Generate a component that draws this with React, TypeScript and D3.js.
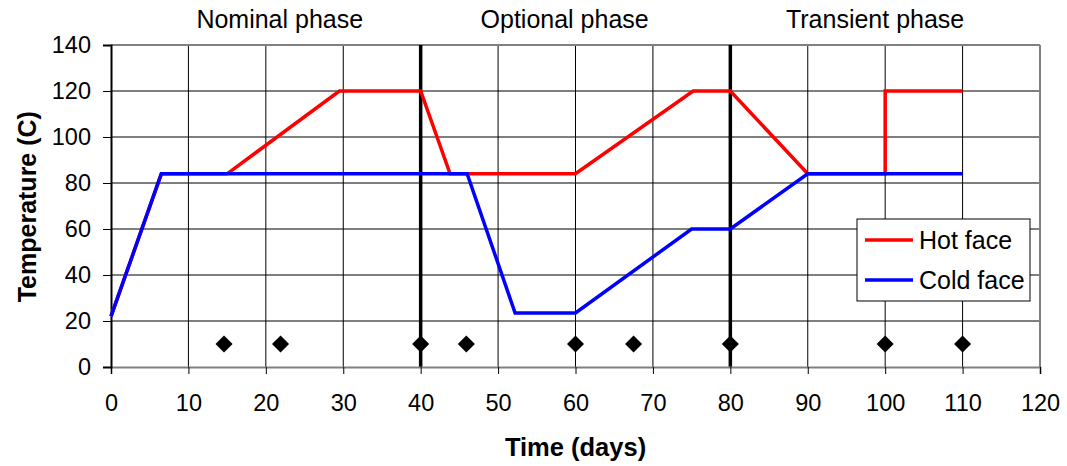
import React, { useEffect, useRef } from 'react';
import * as d3 from 'd3';

// time (days) and temperature (C)
const hotDays = [0, 6.5, 15, 29.5, 40, 43.8, 60, 75.2, 80, 90, 100, 100, 110];
const hotTemps = [22, 84, 84, 120, 120, 84, 84, 120, 120, 84, 84, 120, 120];
const coldDays = [0, 6.5, 46, 52.2, 60, 75, 80, 90, 110];
const coldTemps = [22, 84, 84, 23.5, 23.5, 60, 60, 84, 84];
const markerDays = [14.6, 21.9, 40, 45.9, 60, 67.5, 80, 100, 110];
const markerTemp = 10;
const phaseBounds = [40, 80];
const phaseNames = ['Nominal phase', 'Optional phase', 'Transient phase'];
const phaseLabelDays = [21.8, 58.6, 98.7];
const xTicks = [0, 10, 20, 30, 40, 50, 60, 70, 80, 90, 100, 110, 120];
const yTicks = [0, 20, 40, 60, 80, 100, 120, 140];
const seriesNames = ['Hot face', 'Cold face'];

const W = 1067, H = 466;

const App = () => {
  const ref = useRef(null);

  useEffect(() => {
    const svg = d3.select(ref.current);
    svg.selectAll('*').remove();
    draw(svg);
  }, []);

  return <svg ref={ref} width={W} height={H} style={{ position: 'absolute', left: 0, top: 0, background: '#fff' }} />;
};

const draw = (svg) => {
  const margin = { top: 45, right: 27, bottom: 99, left: 111 };
  const width = W - margin.left - margin.right;
  const height = H - margin.top - margin.bottom;
  const font = '"Liberation Sans", Arial, sans-serif';

  const g = svg.append('g').attr('transform', `translate(${margin.left},${margin.top})`);

  const x = d3.scaleLinear().domain([0, 120]).range([0, width]);
  const y = d3.scaleLinear().domain([0, 140]).range([height, 0]);

  // grid
  g.append('g').selectAll('line').data(xTicks.slice(1, -1)).enter().append('line')
    .attr('x1', d => x(d)).attr('x2', d => x(d))
    .attr('y1', 0).attr('y2', height)
    .attr('stroke', '#000').attr('stroke-width', 1);
  g.append('g').selectAll('line').data(yTicks.slice(1, -1)).enter().append('line')
    .attr('x1', 0).attr('x2', width)
    .attr('y1', d => y(d)).attr('y2', d => y(d))
    .attr('stroke', '#000').attr('stroke-width', 1);

  // frame
  g.append('line').attr('x1', 0).attr('x2', width).attr('y1', 0).attr('y2', 0)
    .attr('stroke', '#808080').attr('stroke-width', 2);
  g.append('line').attr('x1', width).attr('x2', width).attr('y1', 0).attr('y2', height)
    .attr('stroke', '#808080').attr('stroke-width', 2);

  // phase separators
  g.append('g').selectAll('line').data(phaseBounds).enter().append('line')
    .attr('x1', d => x(d)).attr('x2', d => x(d))
    .attr('y1', 0).attr('y2', height)
    .attr('stroke', '#000').attr('stroke-width', 3.5);

  // axes
  const xAxis = g.append('g').attr('transform', `translate(0,${height})`)
    .call(d3.axisBottom(x).tickValues(xTicks).tickSize(7).tickPadding(20));
  xAxis.select('.domain').attr('stroke', '#808080').attr('stroke-width', 2);
  const yAxis = g.append('g')
    .call(d3.axisLeft(y).tickValues(yTicks).tickSize(8).tickPadding(12));
  yAxis.select('.domain').attr('stroke', '#000').attr('stroke-width', 2);
  [xAxis, yAxis].forEach(a => {
    a.selectAll('.tick line').attr('stroke', '#000').attr('stroke-width', 1);
    a.selectAll('.tick text').attr('font-family', font).attr('font-size', 23.5).attr('fill', '#000');
  });

  // series (cold drawn on top, as in the original)
  const line = d3.line().x(d => x(d[0])).y(d => y(d[1]));
  const hot = hotDays.map((d, i) => [d, hotTemps[i]]);
  const cold = coldDays.map((d, i) => [d, coldTemps[i]]);
  g.append('path').datum(hot).attr('d', line).attr('fill', 'none')
    .attr('stroke', '#ff0000').attr('stroke-width', 3.5).attr('stroke-linejoin', 'miter');
  g.append('path').datum(cold).attr('d', line).attr('fill', 'none')
    .attr('stroke', '#0000ff').attr('stroke-width', 3.5).attr('stroke-linejoin', 'miter');

  // markers: squares turned 45 degrees
  g.append('g').selectAll('path').data(markerDays).enter().append('path')
    .attr('d', d3.symbol().type(d3.symbolSquare).size(145))
    .attr('transform', d => `translate(${x(d)},${y(markerTemp)}) rotate(45)`)
    .attr('fill', '#000');

  // phase titles
  g.append('g').selectAll('text').data(phaseNames).enter().append('text')
    .attr('x', (d, i) => x(phaseLabelDays[i])).attr('y', -17)
    .attr('text-anchor', 'middle')
    .attr('font-family', font).attr('font-size', 25)
    .text(d => d);

  // axis titles
  svg.append('text').attr('x', margin.left + x(60)).attr('y', 456)
    .attr('text-anchor', 'middle').attr('font-family', font)
    .attr('font-size', 25.5).attr('font-weight', 'bold').text('Time (days)');
  svg.append('text').attr('transform', `translate(36,${margin.top + y(69.7)}) rotate(-90)`)
    .attr('text-anchor', 'middle').attr('font-family', font)
    .attr('font-size', 25).attr('font-weight', 'bold').text('Temperature (C)');

  // legend
  const lg = svg.append('g').attr('transform', 'translate(857,219)');
  lg.append('rect').attr('width', 173).attr('height', 82)
    .attr('fill', '#fff').attr('stroke', '#000').attr('stroke-width', 1);
  const colors = d3.scaleOrdinal().domain(seriesNames).range(['#ff0000', '#0000ff']);
  const item = lg.selectAll('.legend').data(seriesNames).enter().append('g')
    .attr('transform', (d, i) => `translate(0,${21 + i * 40})`);
  item.append('line').attr('x1', 8).attr('x2', 56).attr('y1', 0).attr('y2', 0)
    .attr('stroke', d => colors(d)).attr('stroke-width', 3.5);
  item.append('text').attr('x', 62).attr('y', 0).attr('dy', '0.36em')
    .attr('font-family', font).attr('font-size', 25).text(d => d);
};

export default App;
